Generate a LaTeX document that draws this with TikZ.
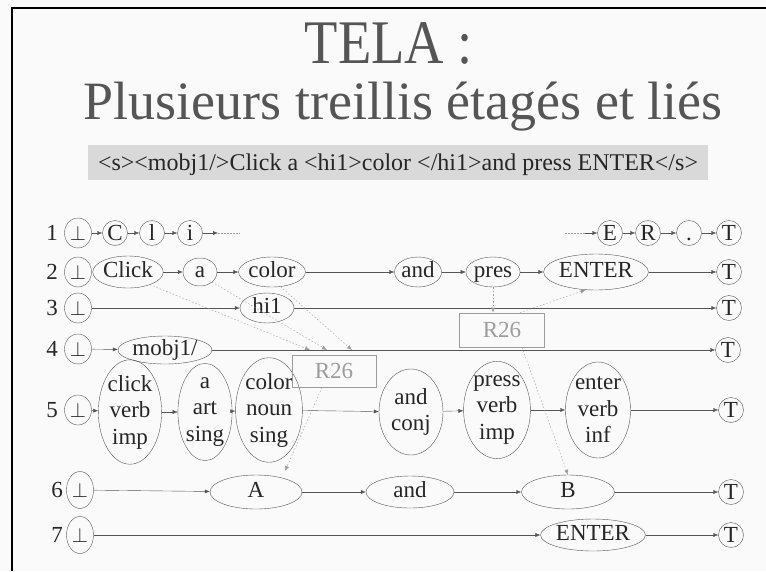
\documentclass[tikz,border=0pt]{standalone}
\usepackage{fontspec}
\setmainfont{Liberation Serif}
\usetikzlibrary{shapes.geometric,arrows.meta,calc}
\definecolor{bgc}{HTML}{FAFAFA}
\definecolor{barc}{HTML}{D9D9D9}
\definecolor{inkc}{HTML}{262626}
\definecolor{titc}{HTML}{555555}
\definecolor{linec}{HTML}{555555}
\definecolor{rulec}{HTML}{9C9C9C}

\begin{document}
\begin{tikzpicture}[x=1pt,y=-1pt,
    bot_node/.style={ellipse,draw=linec,inner sep=0pt,minimum width=27pt,minimum height=30pt,text=inkc,font=\fontsize{21}{21}\selectfont},
    let_node/.style={circle,draw=linec,inner sep=0pt,minimum size=25pt,text=inkc,text height=15pt,text depth=0pt,font=\fontsize{23}{23}\selectfont},
    word_node/.style={ellipse,draw=linec,inner sep=0pt,text=inkc,font=\fontsize{23}{26.5}\selectfont},
    one_line/.style={text height=15pt,text depth=4pt},
    stack/.style={align=center},
    row_lbl/.style={anchor=east,inner sep=0pt,text=inkc,font=\fontsize{23}{23}\selectfont},
    rule_box/.style={draw=rulec,thick,minimum width=85pt,minimum height=34pt,text=rulec,font=\fontsize{23}{23}\selectfont},
    arr/.style={draw=linec,-{Latex[length=5pt,width=4pt]}},
    dot_arr/.style={draw=rulec,dash pattern=on 1.5pt off 2pt,-{Latex[length=5pt,width=4pt]}},
    dot_line/.style={draw=rulec,dash pattern=on 1.5pt off 1.5pt}]
    \fill[bgc] (0,0) rectangle (766,571);
    \useasboundingbox (0,0) rectangle (766,571);
    \draw[line width=2pt] (12,571) -- (12,8) -- (766,8);
    \node[anchor=base,text=titc,font=\fontsize{62}{62}\selectfont] (title) at (389,63) {\scalebox{0.88}[1]{TELA :}};
    \node[anchor=base,text=titc,font=\fontsize{54}{54}\selectfont] (subtitle) at (403,119) {Plusieurs treillis étagés et liés};
    \fill[barc] (88,145) rectangle (708,180);
    \node[anchor=base,text=inkc,font=\fontsize{24}{24}\selectfont] (source) at (398,170) {\textless s\textgreater\textless mobj1/\textgreater Click a \textless hi1\textgreater color \textless/hi1\textgreater and press ENTER\textless/s\textgreater};

    \foreach \r/\y in {1/233,2/272,3/308,4/349,5/410} {
        \node[row_lbl] (n\r) at (58,\y) {\r};
        \node[bot_node] (b\r) at (78,\y) {$\perp$};
    }
    \node[row_lbl] (n6) at (63,490) {6};
    \node[bot_node,minimum height=37pt] (b6) at (80,490) {$\perp$};
    \node[row_lbl] (n7) at (63,535) {7};
    \node[bot_node,minimum height=37pt] (b7) at (80,535) {$\perp$};

    \node[let_node] (c1) at (115,233) {C};
    \node[let_node] (c2) at (152,233) {l};
    \node[let_node] (c3) at (190,233) {i};
    \coordinate (d1) at (218,233);
    \coordinate (d2) at (240,233);
    \coordinate (d3) at (565,233);
    \coordinate (d4) at (585,233);
    \node[let_node] (c4) at (610,233) {E};
    \node[let_node] (c5) at (648,233) {R};
    \node[let_node] (c6) at (689,233) {.};
    \node[let_node] (t1) at (729,233) {T};

    \node[word_node,one_line,minimum width=54pt,minimum height=32pt] (w21) at (128,272) {Click};
    \node[word_node,one_line,minimum width=34pt,minimum height=28pt] (w22) at (200,272) {a};
    \node[word_node,one_line,minimum width=62pt,minimum height=30pt] (w23) at (272,272) {color};
    \node[word_node,one_line,minimum width=44pt,minimum height=30pt] (w24) at (418,272) {and};
    \node[word_node,one_line,minimum width=54pt,minimum height=30pt] (w25) at (493,272) {pres};
    \node[word_node,one_line,minimum width=86pt,minimum height=36pt] (w26) at (596,272) {ENTER};
    \node[let_node] (t2) at (729,272) {T};

    \node[word_node,one_line,minimum width=54pt,minimum height=30pt] (w31) at (267,308) {hi1};
    \node[let_node] (t3) at (729,308) {T};

    \node[word_node,one_line,minimum width=94pt,minimum height=28pt] (w41) at (165,350) {mobj1/};
    \node[let_node] (t4) at (728,350) {T};

    \node[word_node,stack,minimum width=55pt,minimum height=100pt] (w51) at (130,412) {click\\verb\\imp};
    \node[word_node,stack,minimum width=45pt,minimum height=96pt] (w52) at (205,412) {a\\art\\sing};
    \node[word_node,stack,minimum width=60pt,minimum height=92pt] (w53) at (269,410) {color\\noun\\sing};
    \node[word_node,stack,minimum width=64pt,minimum height=86pt] (w54) at (411,412) {and\\conj};
    \node[word_node,stack,minimum width=63pt,minimum height=96pt] (w55) at (497,410) {press\\verb\\imp};
    \node[word_node,stack,minimum width=63pt,minimum height=96pt] (w56) at (598,410) {enter\\verb\\inf};
    \node[let_node] (t5) at (731,410) {T};

    \node[word_node,one_line,minimum width=92pt,minimum height=34pt] (w61) at (256,492) {A};
    \node[word_node,one_line,minimum width=88pt,minimum height=32pt] (w62) at (410,492) {and};
    \node[word_node,one_line,minimum width=93pt,minimum height=34pt] (w63) at (568,492) {B};
    \node[let_node] (t6) at (731,492) {T};

    \node[word_node,one_line,minimum width=88pt,minimum height=32pt] (w71) at (593,535) {ENTER};
    \node[let_node] (t7) at (731,535) {T};

    \node[rule_box] (r1) at (502,330) {R26};
    \node[rule_box,minimum width=84pt,minimum height=32pt] (r2) at (334,371) {R26};

    \foreach \a/\b in {b1/c1,c1/c2,c2/c3,c3/d1,d4/c4,c4/c5,c5/c6,c6/t1,
        w21/w22,w22/w23,w23/w24,w24/w25,w25/w26,w26/t2,
        b3/w31,w31/t3,b4/w41,w41/t4,
        b5/w51,w51/w52,w52/w53,w53/w54,w54/w55,w55/w56,w56/t5,
        b6/w61,w61/w62,w62/w63,w63/t6,b7/w71,w71/t7}
        \draw[arr] (\a) -- (\b);
    \draw[dot_line] (d1) -- (d2);
    \draw[dot_line] (d3) -- (d4);

    \coordinate (k1) at (310,350);
    \coordinate (k2) at (327,350);
    \coordinate (k3) at (352,350);
    \coordinate (k4) at (285,471);
    \draw[dot_arr] (w21.-30) -- (k1);
    \draw[dot_arr] (w22.-40) -- (k2);
    \draw[dot_arr] (w23.-60) -- (k3);
    \draw[dot_arr] ($(r2.south)+(-12,0)$) -- (k4);
    \draw[dot_arr] (w25.south) -- (w25.south |- r1.north);
    \draw[dot_arr] ($(r1.north)+(18,0)$) -- (w26.240);
    \draw[dot_arr] ($(r1.south)+(20,0)$) -- (w63.north);
\end{tikzpicture}
\end{document}
